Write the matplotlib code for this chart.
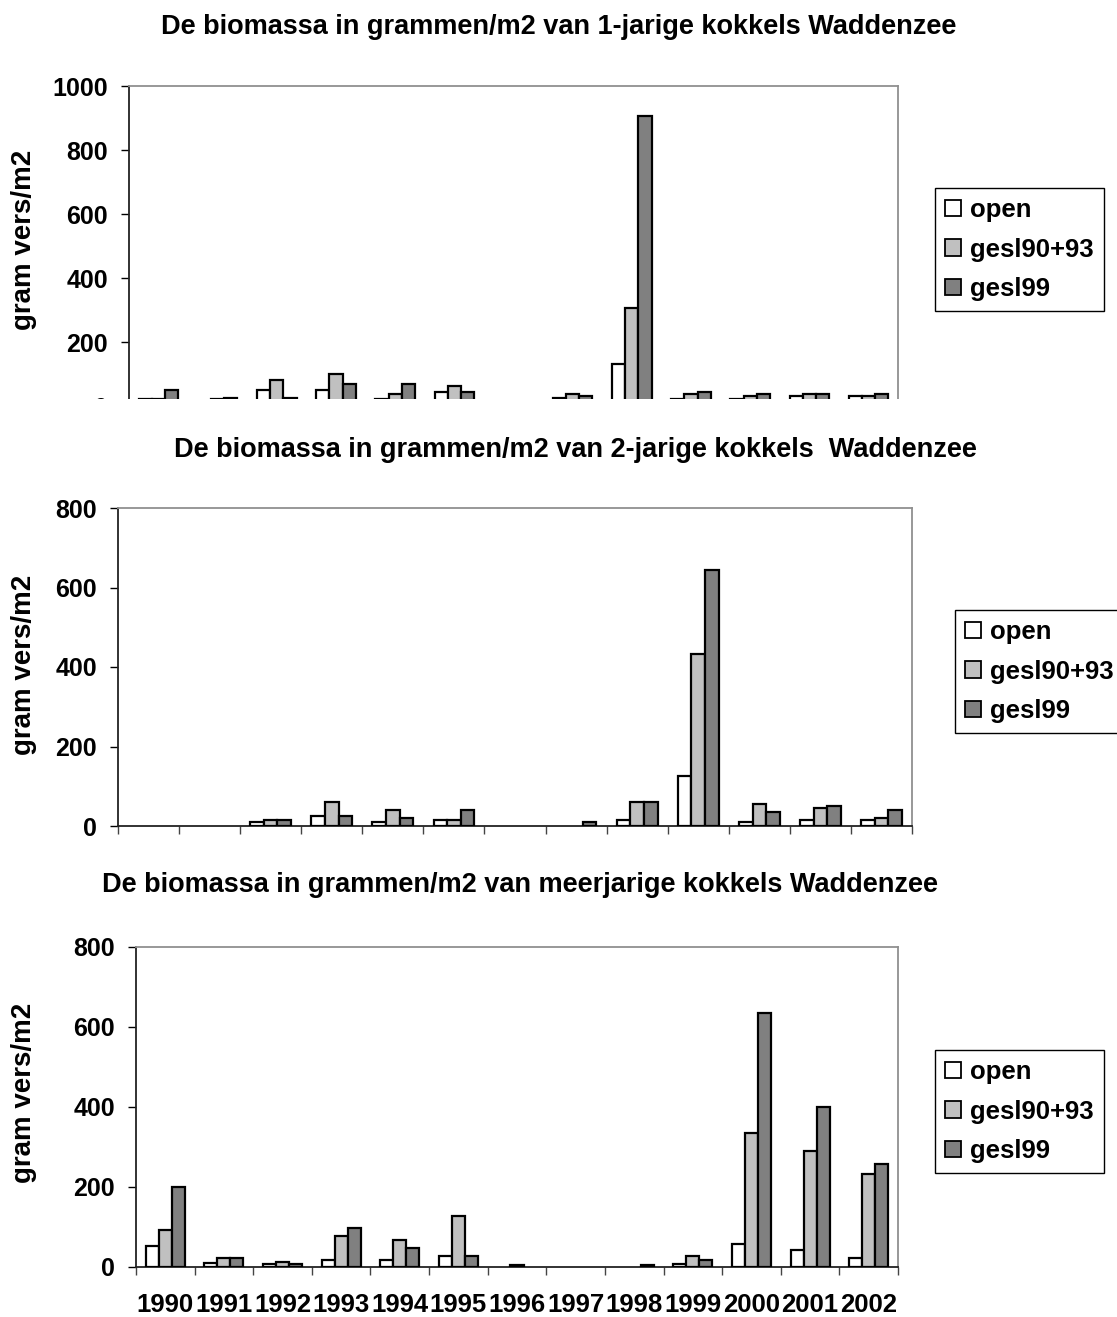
import numpy as np
import matplotlib
matplotlib.use("Agg")
import matplotlib.pyplot as plt
from matplotlib.patches import Patch, Rectangle

plt.rcParams['font.family'] = ['Liberation Sans', 'DejaVu Sans']
plt.rcParams['font.weight'] = 'bold'

years = ["1990", "1991", "1992", "1993", "1994", "1995", "1996",
         "1997", "1998", "1999", "2000", "2001", "2002"]
series_names = ["open", "gesl90+93", "gesl99"]
colors = ["#FFFFFF", "#C0C0C0", "#808080"]

# 1-jarige kokkels
one_open = [22, 5, 51, 51, 22, 45, 0, 26, 131, 22, 22, 31, 31]
one_g9093 = [22, 22, 81, 101, 39, 64, 0, 39, 305, 39, 31, 39, 31]
one_g99 = [51, 26, 26, 70, 70, 45, 0, 31, 906, 45, 39, 39, 39]

# 2-jarige kokkels
two_open = [0, 0, 10, 26, 10, 16, 0, 0, 16, 126, 10, 16, 16]
two_g9093 = [0, 0, 16, 61, 41, 16, 0, 0, 61, 432, 56, 46, 21]
two_g99 = [0, 0, 16, 26, 21, 41, 0, 10, 61, 643, 36, 51, 41]

# meerjarige kokkels
multi_open = [52, 10, 7, 17, 17, 27, 0, 0, 0, 7, 57, 42, 22]
multi_g9093 = [92, 22, 12, 77, 67, 127, 4, 0, 0, 27, 336, 291, 232]
multi_g99 = [200, 22, 7, 97, 47, 27, 0, 0, 4, 17, 636, 401, 257]

titles = ["De biomassa in grammen/m2 van 1-jarige kokkels Waddenzee",
          "De biomassa in grammen/m2 van 2-jarige kokkels  Waddenzee",
          "De biomassa in grammen/m2 van meerjarige kokkels Waddenzee"]

W, H = 1117, 1317
fig = plt.figure(figsize=(W / 100, H / 100), dpi=100)


def px_axes(left, top, right, bottom):
    return fig.add_axes([left / W, 1 - bottom / H, (right - left) / W, (bottom - top) / H])


def bar_chart(ax, data, ymax, show_years):
    x = np.arange(len(years))
    w = 1 / 4.5
    for i, vals in enumerate(data):
        vals = np.array(vals, dtype=float)
        keep = vals > 0  # empty cells draw nothing
        ax.bar(x[keep] + (i - 1) * w, vals[keep], width=w, color=colors[i],
               edgecolor="black", linewidth=1.6, zorder=3)
    ax.set_xlim(-0.5, len(years) - 0.5)
    ax.set_ylim(0, ymax)
    ax.set_yticks(np.arange(0, ymax + 1, 200))
    ax.tick_params(axis="y", direction="out", length=6, width=1, pad=9, labelsize=18)
    ax.set_xticks(np.arange(len(years) + 1) - 0.5)
    ax.set_xticklabels([])
    ax.tick_params(axis="x", which="major", direction="out", length=6, width=1, color="#444444")
    ax.set_xticks(x, minor=True)
    if show_years:
        ax.set_xticklabels(years, minor=True)
    ax.tick_params(axis="x", which="minor", length=0, pad=19, labelsize=18.5)
    for s in ["top", "right"]:
        ax.spines[s].set_color("#909090")
        ax.spines[s].set_linewidth(1.3)
    for s in ["left", "bottom"]:
        ax.spines[s].set_color("#222222")
        ax.spines[s].set_linewidth(1.3)


def legend_at(left, top):
    handles = [Patch(facecolor=c, edgecolor="black", linewidth=1.3) for c in colors]
    leg = fig.legend(handles, series_names, loc="upper left",
                     bbox_to_anchor=(left / W, 1 - top / H),
                     prop={"size": 18.5, "weight": "bold"},
                     handlelength=0.6, handleheight=0.6, handletextpad=0.35,
                     labelspacing=0.6, borderpad=0.4, borderaxespad=0,
                     fancybox=False, framealpha=1)
    leg.get_frame().set_edgecolor("black")
    leg.get_frame().set_linewidth(1.0)


ax1 = px_axes(129, 86, 898, 406)
bar_chart(ax1, [one_open, one_g9093, one_g99], 1000, False)
ax2 = px_axes(118, 508, 912, 826)
bar_chart(ax2, [two_open, two_g9093, two_g99], 800, False)
ax3 = px_axes(136, 947, 898, 1267)
bar_chart(ax3, [multi_open, multi_g9093, multi_g99], 800, True)

# top chart is cut off at the bottom
fig.add_artist(Rectangle((0, 1 - 430 / H), 1, 31 / H, transform=fig.transFigure,
                         facecolor="white", edgecolor="none", zorder=10))

fig.text(559 / W, 1 - 27 / H, titles[0], ha="center", va="center", fontsize=19.5)
fig.text(575 / W, 1 - 450 / H, titles[1], ha="center", va="center", fontsize=19.5)
fig.text(520 / W, 1 - 885 / H, titles[2], ha="center", va="center", fontsize=19.5)

for yc in [240, 665, 1093]:
    fig.text(24 / W, 1 - yc / H, "gram vers/m2", rotation=90,
             ha="center", va="center", fontsize=20)

legend_at(935, 188)
legend_at(955, 610)
legend_at(935, 1050)

fig.savefig("out.png", dpi=100)
